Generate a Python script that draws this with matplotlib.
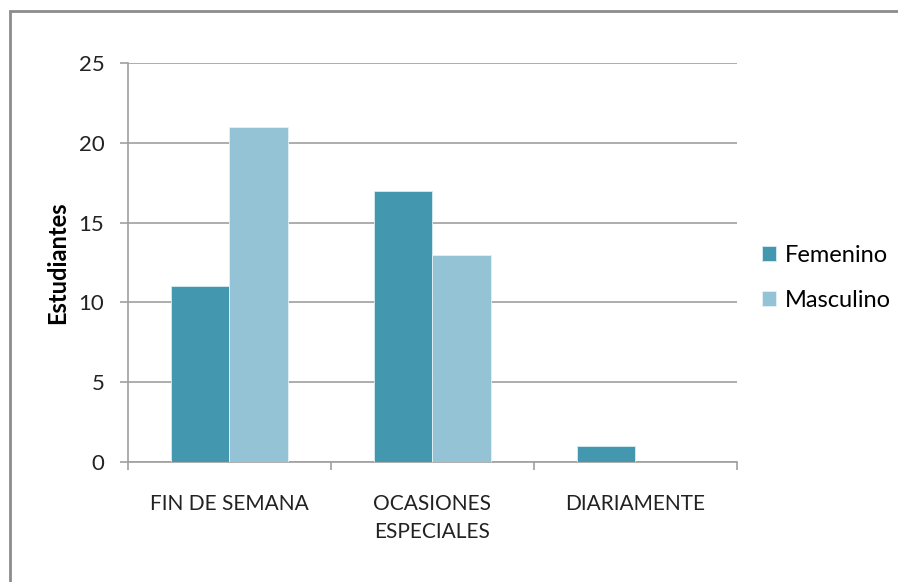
import matplotlib.pyplot as plt
import numpy as np
from matplotlib.patches import Rectangle

categories = ['FIN DE SEMANA', 'OCASIONES\nESPECIALES', 'DIARIAMENTE']
femenino = [11, 17, 1]
masculino = [21, 13, 0]
yticks = [0, 5, 10, 15, 20, 25]

plt.rcParams['font.family'] = ['Lato', 'DejaVu Sans']

fig = plt.figure(figsize=(8.98, 5.82), dpi=100)
ax = fig.add_axes([0.1425, 0.2062, 0.6782, 0.6856])

x = np.arange(len(categories))
w = 0.286
ax.bar(x - w / 2, femenino, w, color='#4398B0', edgecolor='#d8ecf2', linewidth=0.6,
       label='Femenino', zorder=3)
ax.bar(x + w / 2, masculino, w, color='#93C3D5', edgecolor='#e4f1f6', linewidth=0.6,
       label='Masculino', zorder=3)

ax.set_xlim(-0.5, 2.5)
ax.set_ylim(0, 25)
ax.set_yticks(yticks)
ax.set_yticklabels([str(v) for v in yticks], fontsize=16, color='#222222')
ax.yaxis.grid(True, color='#a0a0a0', linewidth=1.2, zorder=0)

ax.set_xticks([-0.5, 0.5, 1.5, 2.5])
ax.set_xticklabels([])
ax.set_xticks(x, minor=True)
ax.set_xticklabels(categories, minor=True, fontsize=15, color='#222222', linespacing=1.5)
ax.tick_params(axis='x', which='minor', length=0, pad=23)
ax.tick_params(axis='x', which='major', length=6, color='#a0a0a0', width=1.2)
ax.tick_params(axis='y', length=6, color='#a0a0a0', width=1.2, pad=11)

for side in ['top', 'right']:
    ax.spines[side].set_visible(False)
for side in ['left', 'bottom']:
    ax.spines[side].set_color('#a0a0a0')
    ax.spines[side].set_linewidth(1.2)

ax.set_ylabel('Estudiantes', fontsize=17, fontweight='bold')
ax.yaxis.set_label_coords(-0.097, 0.5)

ax.legend(loc='center left', bbox_to_anchor=(1.026, 0.461), frameon=False, fontsize=17,
          handlelength=0.6, handleheight=0.6, handletextpad=0.35, labelspacing=1.0,
          borderaxespad=0)

# chart border (only top/left visible in the crop)
fig.patches.append(Rectangle((10 / 898, -0.1), 1.2, 1.1 - 11 / 582, transform=fig.transFigure,
                             fill=False, edgecolor='#8c8c8c', linewidth=2))

fig.savefig('out.png', dpi=100)
